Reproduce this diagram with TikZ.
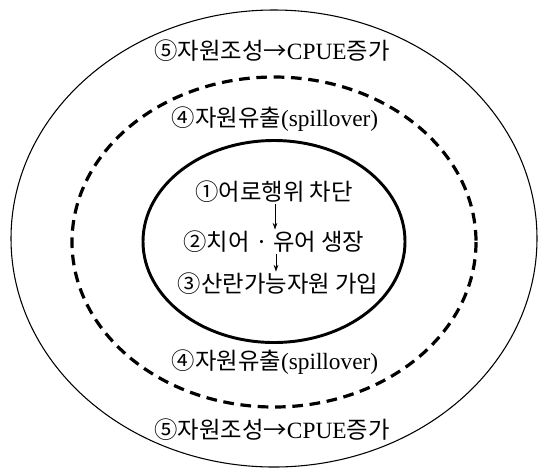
\documentclass[tikz,border=0pt]{standalone}
\usepackage{fontspec}
\setmainfont{Liberation Serif}
\newfontfamily\kr{Noto Sans CJK KR}
\usetikzlibrary{arrows.meta}
\begin{document}
\begin{tikzpicture}[x=0.75pt,y=-0.75pt,
  lbl/.style={font=\fontsize{17.5}{20}\selectfont, inner sep=1pt, anchor=center},
  outerring/.style={line width=0.8pt},
  midring/.style={line width=2.4pt, dash pattern=on 8pt off 5pt},
  innerring/.style={line width=2.2pt},
  flow/.style={line width=0.6pt, -{Stealth[length=5pt,width=3.5pt]}}]
\useasboundingbox (0,0) rectangle (541,469);
\fill[white] (0,0) rectangle (541,469);
\draw[outerring] (274,238.5) ellipse [x radius=263, y radius=228.5];
\draw[midring] (274,242) ellipse [x radius=202, y radius=165];
\draw[innerring] (274,241.5) ellipse [x radius=131, y radius=101];
\node[lbl] (t5) at (272,51) {{\kr ⑤자원조성→}CPUE{\kr 증가}};
\node[lbl] (t4) at (275,119) {{\kr ④자원유출}(spillover)};
\node[lbl] (n1) at (274,192) {\kr ①어로행위 차단};
\node[lbl] (n2) at (274,242) {\kr ②치어 · 유어 생장};
\node[lbl] (n3) at (278,284) {\kr ③산란가능자원 가입};
\node[lbl] (b4) at (275,362) {{\kr ④자원유출}(spillover)};
\node[lbl] (b5) at (272,430) {{\kr ⑤자원조성→}CPUE{\kr 증가}};
\draw[flow] (n1.south -| 275,0) -- (n2.north -| 275,0);
\draw[flow] (n2.south -| 276,0) -- (n3.north -| 276,0);
\end{tikzpicture}
\end{document}
